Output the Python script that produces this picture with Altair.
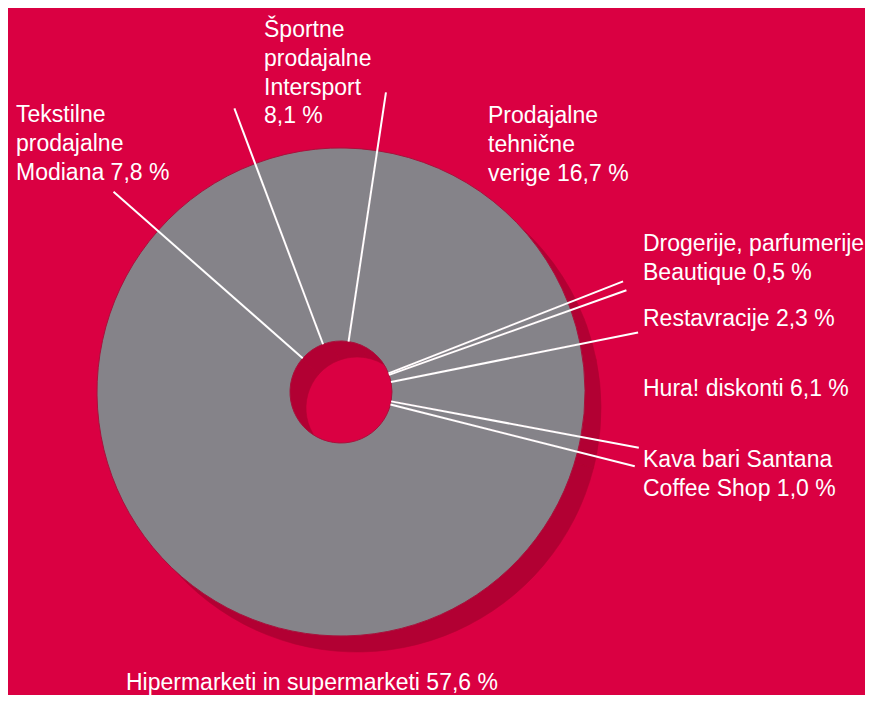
import math
import altair as alt
import pandas as pd

# ---- data (clockwise, starting at the top) ----
categories = [
    "Intersport",
    "Prodajalne tehnične verige",
    "Drogerije, parfumerije Beautique",
    "Restavracije",
    "Hura! diskonti",
    "Kava bari Santana Coffee Shop",
    "Hipermarketi in supermarketi",
    "Tekstilne prodajalne Modiana",
]
shares = [8.1, 16.7, 0.5, 2.3, 6.1, 1.0, 57.6, 7.8]
labels = [
    "Športne\nprodajalne\nIntersport\n8,1 %",
    "Prodajalne\ntehnične\nverige 16,7 %",
    "Drogerije, parfumerije\nBeautique 0,5 %",
    "Restavracije 2,3 %",
    "Hura! diskonti 6,1 %",
    "Kava bari Santana\nCoffee Shop 1,0 %",
    "Hipermarketi in supermarketi 57,6 %",
    "Tekstilne\nprodajalne\nModiana 7,8 %",
]

# ---- layout (pixels) ----
W, H = 857, 687
CX, CY = 333, 384            # donut centre inside the chart
START = math.radians(-20.6)  # angle where the first slice begins
R_IN, R_OUT = 51, 244
LINE_END = 303
SHADOW_DX, SHADOW_DY = 16, 16
label_left = [264, 488, 643, 643, 643, 643, 126, 16]      # page x of label start
label_base = [37, 123, 251, 326, 396, 467, 690, 122]      # page y of first baseline

BG = "#DA0042"
GREY = "#858389"
SHADOW = "#B20033"

df = pd.DataFrame({
    "category": categories,
    "share": shares,
    "order": list(range(len(categories))),
    "label": labels,
    "lx": [x - 8 - CX for x in label_left],
    "ly": [CY - (y - 8) for y in label_base],
})

xs = alt.Scale(domain=[-CX, W - CX], nice=False, zero=False)
ys = alt.Scale(domain=[-(H - CY), CY], nice=False, zero=False)
theta = alt.Theta("share:Q", stack=True,
                  scale=alt.Scale(range=[START, START + 2 * math.pi]))

base = alt.Chart(df)

shadow = base.mark_arc(innerRadius=R_IN, outerRadius=R_OUT, fill=SHADOW,
                       stroke=SHADOW, strokeWidth=0.6).encode(
    theta=theta,
    order=alt.Order("order:Q"),
    x=alt.XDatum(SHADOW_DX, type="quantitative", scale=xs, axis=None),
    y=alt.YDatum(-SHADOW_DY, type="quantitative", scale=ys, axis=None),
)

ring = base.mark_arc(innerRadius=R_IN, outerRadius=R_OUT, fill=GREY,
                     stroke="#A8123C", strokeWidth=1).encode(
    theta=theta,
    order=alt.Order("order:Q"),
    x=alt.XDatum(0, type="quantitative", scale=xs, axis=None),
    y=alt.YDatum(0, type="quantitative", scale=ys, axis=None),
)

rules = base.transform_window(
    cum="sum(share)", sort=[alt.SortField("order")], frame=[None, 0]
).transform_joinaggregate(
    total="sum(share)"
).transform_calculate(
    ang=f"{START} + datum.cum / datum.total * 2 * PI",
    x1=f"{R_IN} * sin(datum.ang)",
    y1=f"{R_IN} * cos(datum.ang)",
    x2=f"{LINE_END} * sin(datum.ang)",
    y2=f"{LINE_END} * cos(datum.ang)",
).mark_rule(color="white", strokeWidth=2).encode(
    x=alt.X("x1:Q", scale=xs, axis=None),
    y=alt.Y("y1:Q", scale=ys, axis=None),
    x2="x2:Q",
    y2="y2:Q",
)

text = base.mark_text(
    align="left", baseline="alphabetic", lineBreak="\n", lineHeight=28.8,
    fontSize=23, font="Liberation Sans", color="white",
).encode(
    x=alt.X("lx:Q", scale=xs, axis=None),
    y=alt.Y("ly:Q", scale=ys, axis=None),
    text="label:N",
)

chart = alt.layer(shadow, ring, rules, text).properties(
    width=W, height=H, background=BG, padding=0,
    autosize=alt.AutoSizeParams(type="fit", contains="padding"),
).configure_view(stroke=None)

chart.save("out.html", embed_options={"renderer": "svg", "actions": False})
